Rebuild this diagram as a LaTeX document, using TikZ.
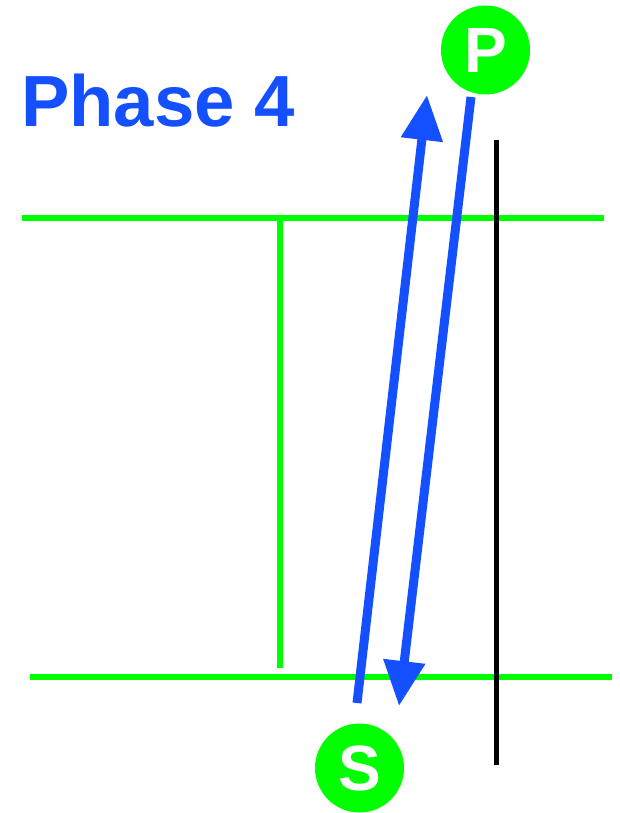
\documentclass[tikz,border=0pt]{standalone}
\usepackage{fontspec}
\setmainfont{Liberation Sans}
\usetikzlibrary{arrows.meta}
\definecolor{tblue}{HTML}{1450FF}
\definecolor{tgreen}{HTML}{00FF00}
\tikzset{
  gline/.style={tgreen, line width=6pt},
  bline/.style={black, line width=5pt},
  barrow/.style={tblue, line width=9pt, -{Triangle[length=45pt,width=40pt]}},
  station/.style={circle, fill=tgreen, minimum size=89pt, inner sep=0pt, text=white, font=\bfseries\fontsize{64}{64}\selectfont},
}
\begin{document}
\begin{tikzpicture}[x=1pt,y=-1pt]
\useasboundingbox (0,0) rectangle (620,813);
\node[anchor=base west, inner sep=0pt, text=tblue, font=\bfseries\fontsize{72.5}{72.5}\selectfont] (title) at (21,127) {Phase 4};
\coordinate (t1) at (22,218);
\coordinate (t2) at (604,218);
\coordinate (b1) at (30,677);
\coordinate (b2) at (612,677);
\coordinate (v1) at (280,218);
\coordinate (v2) at (280,668);
\coordinate (k1) at (496,140);
\coordinate (k2) at (496,765);
\draw[gline] (t1) -- (t2);
\draw[gline] (b1) -- (b2);
\draw[gline] (v1) -- (v2);
\draw[bline] (k1) -- (k2);
\node[station] (P) at (485.5,50) {P};
\node[station] (S) at (359.5,768) {S};
\coordinate (u1) at (357,703);
\coordinate (u2) at (427,95);
\coordinate (d1) at (471,97);
\coordinate (d2) at (399,706);
\draw[barrow] (u1) -- (u2);
\draw[barrow] (d1) -- (d2);
\end{tikzpicture}
\end{document}
